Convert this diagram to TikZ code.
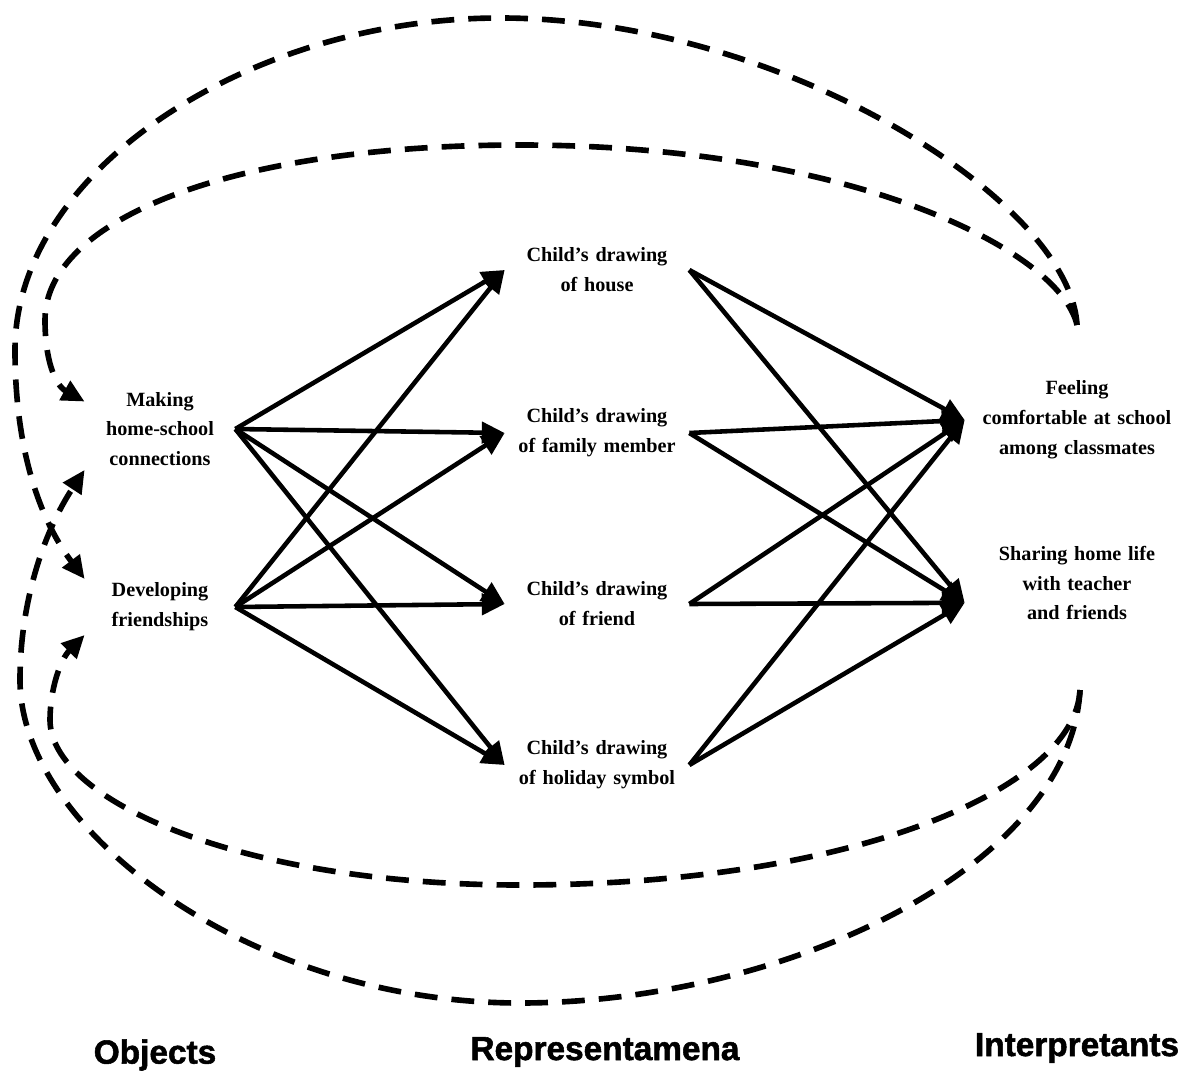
\documentclass[tikz,border=0pt]{standalone}
\usepackage{fontspec}
\setmainfont{Liberation Serif}
\setsansfont{Liberation Sans}
\newfontfamily\headfont[FakeBold=1.6]{Liberation Sans Bold}
\usetikzlibrary{arrows.meta}

\begin{document}
\begin{tikzpicture}[x=0.02cm, y=-0.02cm, >={Triangle[length=13pt,width=12pt]}]
	\tikzstyle{term}=[align=center, font=\bfseries\fontsize{11.5}{17}\selectfont, inner ysep=2pt]
	\tikzstyle{object}=[term, text width=2.5cm, inner xsep=0.25cm]
	\tikzstyle{sign}=[term, text width=3.2cm, inner xsep=0.24cm]
	\tikzstyle{interp}=[term, text width=3.8cm, inner xsep=0.34cm]
	\tikzstyle{heading}=[font=\headfont\fontsize{19}{22}\selectfont]
	\tikzstyle{link}=[->, line width=2.6pt]
	\tikzstyle{backlink}=[->, line width=3.2pt, dash pattern=on 13pt off 8pt]
	
	\useasboundingbox (0,0) rectangle (1190,1071);
	
	% Objects
	\node[object] (making) at (160,429) {Making\\home-school\\connections};
	\node[object] (developing) at (160,607) {Developing\\friendships};
	
	% Representamena
	\node[sign] (house) at (597,270) {Child's drawing\\of house};
	\node[sign] (family) at (597,433) {Child's drawing\\of family member};
	\node[sign] (friend) at (597,604) {Child's drawing\\of friend};
	\node[sign] (holiday) at (597,765) {Child's drawing\\of holiday symbol};
	
	% Interpretants
	\node[interp] (feeling) at (1077,420) {Feeling\\comfortable at school\\among classmates};
	\node[interp] (sharing) at (1077,583) {Sharing home life\\with teacher\\and friends};
	\coordinate (fork-top) at (1077,325);
	\coordinate (fork-bottom) at (1080,690);
	
	% Column headings
	\node[heading] (objects) at (155,1055) {Objects};
	\node[heading] (representamena) at (605,1052) {Representamena};
	\node[heading] (interpretants) at (1077,1048) {Interpretants};
	
	% Objects to representamena
	\path[link] (making.east) edge (house.west);
	\path[link] (making.east) edge (family.west);
	\path[link] (making.east) edge (friend.west);
	\path[link] (making.east) edge (holiday.west);
	\path[link] (developing.east) edge (house.west);
	\path[link] (developing.east) edge (family.west);
	\path[link] (developing.east) edge (friend.west);
	\path[link] (developing.east) edge (holiday.west);
	
	% Representamena to interpretants
	\path[link] (house.east) edge (feeling.west);
	\path[link] (house.east) edge (sharing.190);
	\path[link] (family.east) edge (feeling.west);
	\path[link] (family.east) edge (sharing.190);
	\path[link] (friend.east) edge (feeling.west);
	\path[link] (friend.east) edge (sharing.190);
	\path[link] (holiday.east) edge (feeling.west);
	\path[link] (holiday.east) edge (sharing.190);
	
	% Interpretants back to objects (top)
	\draw[backlink] (fork-top) .. controls (1070,200) and (780,18) .. (500,18)
		.. controls (250,18) and (15,170) .. (15,350)
		.. controls (15,450) and (40,520) .. (developing.north west);
	\draw[backlink] (fork-top) .. controls (1060,250) and (850,145) .. (520,145)
		.. controls (230,145) and (45,220) .. (45,320)
		.. controls (45,360) and (55,385) .. (making.160);
	
	% Interpretants back to objects (bottom)
	\draw[backlink] (fork-bottom) .. controls (1075,790) and (850,885) .. (520,885)
		.. controls (240,885) and (50,800) .. (50,720)
		.. controls (50,690) and (60,660) .. (developing.south west);
	\draw[backlink] (fork-bottom) .. controls (1070,870) and (780,1003) .. (520,1003)
		.. controls (250,1003) and (20,830) .. (20,680)
		.. controls (20,600) and (45,530) .. (making.south west);
\end{tikzpicture}
\end{document}
